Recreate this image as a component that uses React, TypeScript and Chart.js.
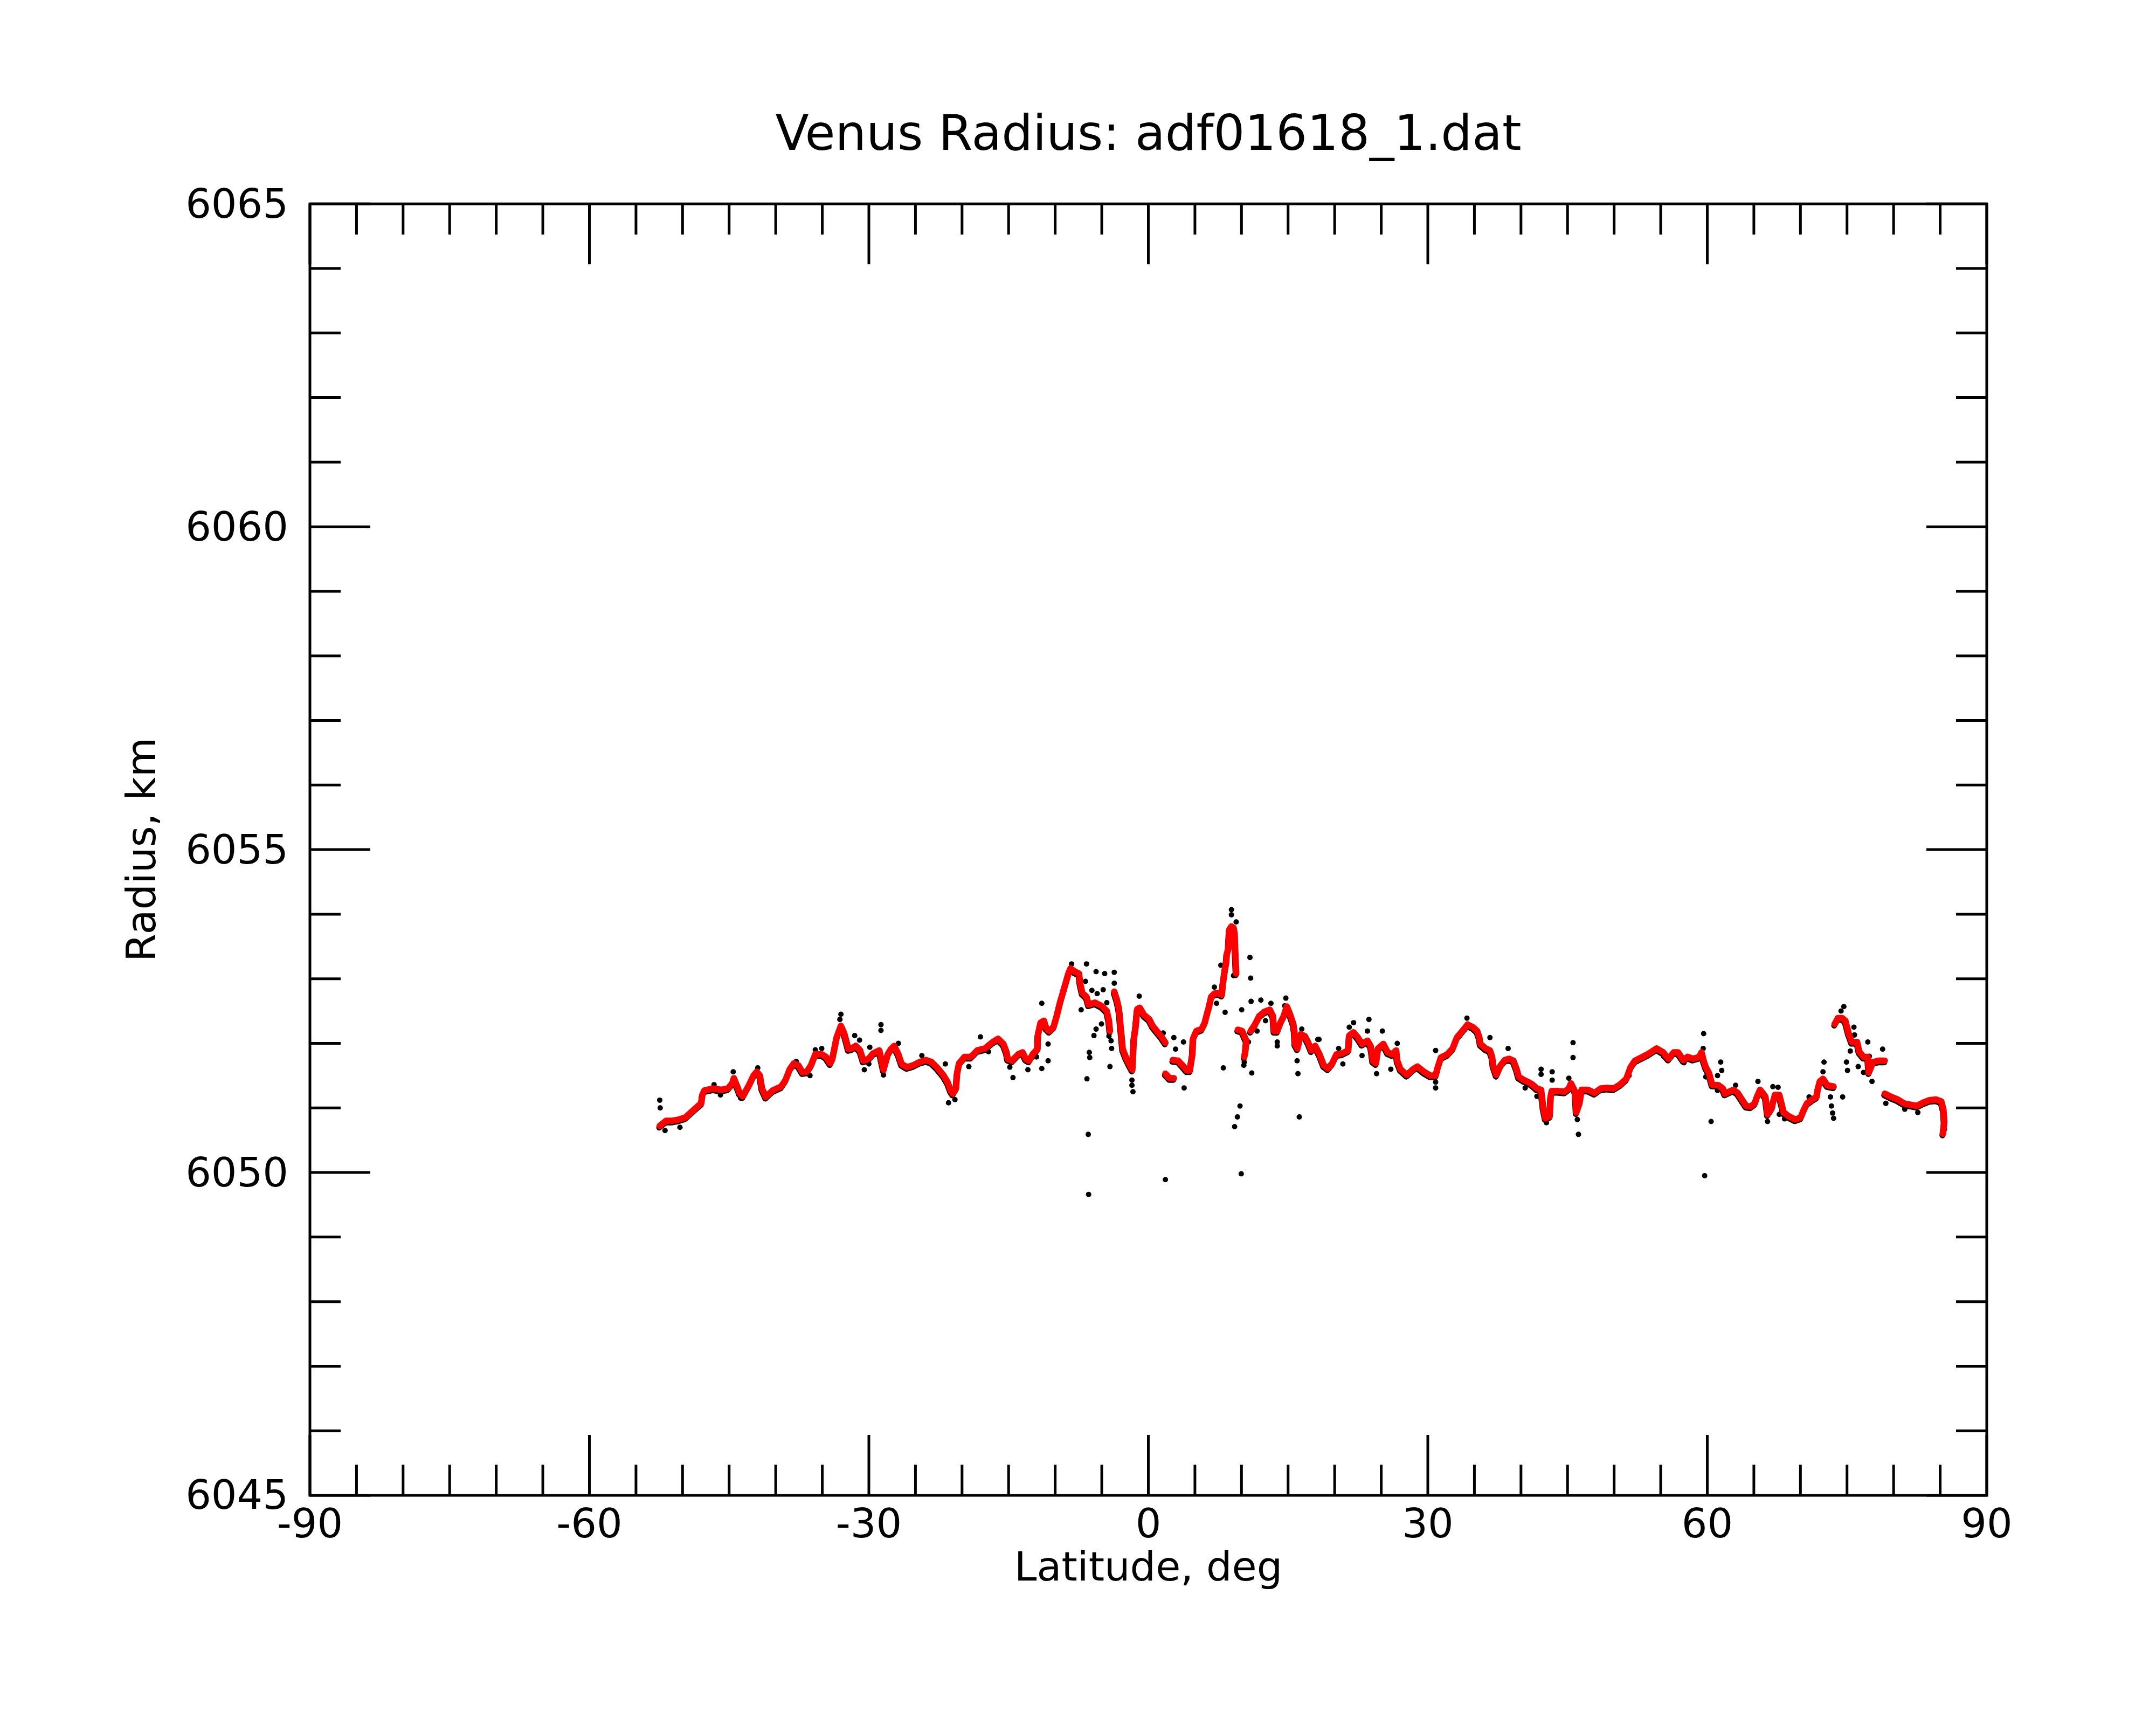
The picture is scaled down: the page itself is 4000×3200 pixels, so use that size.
import React, { useEffect, useRef } from "react";
import { Chart, registerables } from "chart.js";

Chart.register(...registerables);

const TITLE = "Venus Radius: adf01618_1.dat";
const X_TITLE = "Latitude, deg";
const Y_TITLE = "Radius, km";

const xTickLabels = [-90, -60, -30, 0, 30, 60, 90];
const yTickLabels = [6045, 6050, 6055, 6060, 6065];
const xMinorTicks = [-85, -80, -75, -70, -65, -55, -50, -45, -40, -35, -25, -20, -15, -10, -5, 5, 10, 15, 20, 25, 35, 40, 45, 50, 55, 65, 70, 75, 80, 85];
const yMinorTicks = [6046, 6047, 6048, 6049, 6051, 6052, 6053, 6054, 6056, 6057, 6058, 6059, 6061, 6062, 6063, 6064];

// smoothed radius (red), [latitude, radius]; null radius = gap
const smoothPoints: [number, number | null][] = [
  [-52.45, 6050.72], [-51.76, 6050.8], [-51.08, 6050.8], [-50.39, 6050.82], [-49.71, 6050.85], [-49.02, 6050.94], [-48.33, 6051.03], [-47.99, 6051.07], [-47.88, 6051.2], [-47.65, 6051.27],
  [-46.73, 6051.3], [-45.82, 6051.28], [-45.13, 6051.3], [-44.67, 6051.38], [-44.49, 6051.46], [-44.21, 6051.36], [-43.87, 6051.23], [-43.53, 6051.18], [-42.84, 6051.36], [-42.38, 6051.5],
  [-42.04, 6051.56], [-41.7, 6051.5], [-41.47, 6051.3], [-41.06, 6051.17], [-40.32, 6051.27], [-39.41, 6051.33], [-38.95, 6051.43], [-38.49, 6051.6], [-38.04, 6051.69], [-37.58, 6051.66],
  [-37.12, 6051.55], [-36.66, 6051.56], [-36.21, 6051.66], [-35.75, 6051.83], [-35.06, 6051.83], [-34.61, 6051.79], [-34.15, 6051.69], [-33.92, 6051.76], [-33.69, 6051.92], [-33.46, 6052.09],
  [-33.0, 6052.27], [-32.66, 6052.16], [-32.43, 6052.04], [-32.2, 6051.91], [-31.86, 6051.92], [-31.4, 6051.96], [-30.94, 6051.89], [-30.6, 6051.73], [-30.03, 6051.76], [-29.57, 6051.84],
  [-28.88, 6051.89], [-28.43, 6051.59], [-27.97, 6051.83], [-27.63, 6051.91], [-27.28, 6051.96], [-26.83, 6051.83], [-26.48, 6051.68], [-25.91, 6051.63], [-25.22, 6051.66], [-24.54, 6051.71],
  [-23.85, 6051.74], [-23.28, 6051.71], [-22.71, 6051.63], [-22.02, 6051.51], [-21.56, 6051.4], [-21.22, 6051.27], [-20.99, 6051.22], [-20.65, 6051.3], [-20.53, 6051.53], [-20.31, 6051.69],
  [-19.73, 6051.79], [-19.05, 6051.79], [-18.36, 6051.89], [-17.56, 6051.92], [-16.7, 6052.02], [-16.13, 6052.07], [-15.56, 6051.99], [-15.22, 6051.86], [-15.1, 6051.76], [-14.64, 6051.73],
  [-13.96, 6051.83], [-13.5, 6051.86], [-13.16, 6051.76], [-12.81, 6051.73], [-12.36, 6051.84], [-11.9, 6051.91], [-11.85, 6052.13], [-11.56, 6052.32], [-11.21, 6052.35], [-10.98, 6052.24],
  [-10.64, 6052.19], [-10.18, 6052.25], [-9.84, 6052.42], [-9.5, 6052.62], [-9.04, 6052.85], [-8.58, 6053.08], [-8.35, 6053.16], [-7.89, 6053.11], [-7.44, 6053.08], [-7.32, 6052.93],
  [-7.09, 6052.78], [-6.64, 6052.72], [-6.41, 6052.6], [-5.72, 6052.63], [-5.03, 6052.58], [-4.46, 6052.5], [-4.23, 6052.35], [-4.12, 6052.19],
  [-4.12, null],
  [-3.66, 6052.8], [-3.39, 6052.68], [-3.2, 6052.56], [-3.09, 6052.45], [-3.02, 6052.32], [-2.93, 6052.19], [-2.75, 6051.91], [-2.4, 6051.78], [-2.06, 6051.68], [-1.72, 6051.59],
  [-1.56, 6052.06], [-1.37, 6052.25], [-1.19, 6052.53], [-0.92, 6052.55], [-0.46, 6052.44], [0.11, 6052.37], [0.46, 6052.27], [0.91, 6052.19], [1.37, 6052.11], [1.83, 6052.01],
  [1.83, null],
  [1.83, 6051.53], [2.29, 6051.46], [2.74, 6051.46],
  [2.74, null],
  [2.63, 6051.74], [3.2, 6051.73], [3.66, 6051.66], [4.12, 6051.58], [4.46, 6051.58], [4.57, 6051.69], [4.73, 6051.83], [4.8, 6052.07], [5.15, 6052.19], [5.72, 6052.22],
  [6.06, 6052.32], [6.29, 6052.45], [6.52, 6052.57], [6.75, 6052.72], [7.09, 6052.77], [7.55, 6052.78], [7.89, 6052.75], [8.01, 6052.93], [8.24, 6053.16], [8.35, 6053.24],
  [8.42, 6053.38], [8.58, 6053.46], [8.69, 6053.76], [8.92, 6053.81], [9.15, 6053.79], [9.26, 6053.7], [9.33, 6053.42], [9.43, 6053.08],
  [9.43, null],
  [9.61, 6052.21], [10.07, 6052.19], [10.52, 6052.04], [10.41, 6051.87], [10.3, 6051.79],
  [10.3, null],
  [10.98, 6052.19], [11.44, 6052.29], [11.9, 6052.42], [12.47, 6052.49], [13.04, 6052.52], [13.38, 6052.42], [13.5, 6052.19], [13.84, 6052.19], [14.18, 6052.32], [14.53, 6052.42],
  [14.87, 6052.57], [15.21, 6052.45], [15.56, 6052.3], [15.67, 6052.19], [15.74, 6051.99], [16.01, 6051.92], [16.36, 6052.14], [16.81, 6052.11], [17.16, 6052.01], [17.5, 6051.89],
  [17.91, 6051.96], [18.37, 6051.83], [18.83, 6051.66], [19.28, 6051.61], [19.74, 6051.69], [20.2, 6051.83], [20.77, 6051.84], [21.46, 6051.89], [21.57, 6052.12], [22.03, 6052.17],
  [22.49, 6052.09], [22.94, 6051.99], [23.52, 6052.04], [23.86, 6051.96], [23.97, 6051.87], [24.09, 6051.73], [24.43, 6051.69], [24.66, 6051.92], [25.23, 6051.99], [25.69, 6051.86],
  [26.15, 6051.83], [26.6, 6051.89], [26.72, 6051.73], [27.06, 6051.6], [27.75, 6051.51], [28.43, 6051.6], [28.89, 6051.64], [29.58, 6051.56], [30.27, 6051.5], [30.84, 6051.5],
  [31.07, 6051.63], [31.41, 6051.78], [32.1, 6051.83], [32.67, 6051.92], [33.13, 6052.09], [33.7, 6052.19], [34.27, 6052.29], [34.84, 6052.25], [35.3, 6052.19], [35.53, 6052.09],
  [35.64, 6051.99], [36.21, 6051.92], [36.67, 6051.89], [36.9, 6051.79], [37.01, 6051.66], [37.36, 6051.51], [37.82, 6051.66], [38.27, 6051.74], [38.73, 6051.76], [39.19, 6051.73],
  [39.53, 6051.6], [39.76, 6051.48], [40.33, 6051.43], [40.79, 6051.4], [41.25, 6051.36], [41.71, 6051.3], [42.16, 6051.28], [42.39, 6051.0], [42.62, 6050.84], [43.08, 6050.87],
  [43.19, 6051.17], [43.31, 6051.26], [43.99, 6051.26], [44.68, 6051.25], [45.14, 6051.3], [45.37, 6051.38], [45.82, 6051.25], [45.94, 6050.93], [46.28, 6051.07], [46.51, 6051.28],
  [47.2, 6051.28], [47.88, 6051.23], [48.57, 6051.3], [49.26, 6051.31], [49.94, 6051.3], [50.63, 6051.36], [51.31, 6051.45], [51.77, 6051.63], [52.23, 6051.73], [52.92, 6051.78],
  [53.6, 6051.83], [54.57, 6051.92], [55.26, 6051.86], [55.83, 6051.76], [56.4, 6051.86], [56.86, 6051.86], [57.43, 6051.74], [57.89, 6051.79], [58.46, 6051.76], [59.15, 6051.79],
  [59.38, 6051.86], [59.61, 6051.73], [59.84, 6051.63], [60.18, 6051.54], [60.52, 6051.36], [61.21, 6051.35], [61.67, 6051.3], [61.89, 6051.22], [62.35, 6051.25], [62.81, 6051.28],
  [63.27, 6051.23], [63.72, 6051.13], [64.18, 6051.03], [64.64, 6051.02], [65.1, 6051.07], [65.33, 6051.17], [65.67, 6051.28], [66.01, 6051.22], [66.24, 6051.17], [66.36, 6051.03],
  [66.47, 6050.9], [66.93, 6051.0], [67.04, 6051.08], [67.27, 6051.2], [67.73, 6051.2], [67.96, 6051.07], [68.19, 6050.93], [68.76, 6050.87], [69.44, 6050.82], [70.02, 6050.85],
  [70.36, 6050.97], [70.7, 6051.07], [71.28, 6051.13], [71.73, 6051.17], [71.85, 6051.28], [72.08, 6051.41], [72.42, 6051.45], [72.88, 6051.35], [73.56, 6051.33],
  [73.56, null],
  [73.68, 6052.3], [74.02, 6052.39], [74.48, 6052.39], [74.82, 6052.35], [75.16, 6052.16], [75.51, 6052.02], [76.08, 6052.02], [76.31, 6051.87], [76.77, 6051.79], [77.23, 6051.79],
  [77.34, 6051.55], [77.8, 6051.71], [78.37, 6051.73], [79.05, 6051.73],
  [79.05, null],
  [79.05, 6051.22], [79.74, 6051.17], [80.43, 6051.13], [81.11, 6051.07], [81.8, 6051.05], [82.49, 6051.03], [83.17, 6051.08], [83.86, 6051.12], [84.55, 6051.13], [85.12, 6051.1],
  [85.35, 6050.97], [85.44, 6050.78], [85.3, 6050.6],
];

// raw radius measurements (black) that stand out from the smoothed track, [latitude, radius]
const rawPoints: [number, number][] = [
  [-52.45, 6051.12], [-52.4, 6051.0], [-51.88, 6050.65], [-50.28, 6050.7], [-44.56, 6051.56], [-33.0, 6052.45], [-33.11, 6052.37], [-28.7, 6052.29],
  [-31.52, 6052.12], [-29.9, 6051.94], [-30.49, 6051.59], [-21.79, 6051.68], [-21.45, 6051.08], [-20.76, 6051.13], [-18.02, 6052.1], [-24.31, 6051.81],
  [-35.06, 6051.92], [-46.62, 6051.36], [-45.93, 6051.2], [-43.76, 6051.15], [-36.32, 6051.5], [-26.83, 6052.0], [-28.43, 6051.51], [-19.27, 6051.64],
  [-41.93, 6051.62], [-37.8, 6051.72], [-35.75, 6051.9], [-33.2, 6052.2], [-31.0, 6052.05], [-30.0, 6051.68], [-28.7, 6052.2],
  [-14.53, 6051.47], [-11.44, 6052.62], [-11.44, 6051.61], [-10.76, 6051.73], [-8.24, 6053.23], [-6.64, 6053.23], [-5.61, 6053.11], [-4.69, 6053.08],
  [-3.66, 6053.1], [-6.75, 6052.96], [-6.06, 6052.82], [-4.85, 6052.83], [-5.49, 6052.77], [-7.21, 6052.52], [-5.03, 6052.3], [-5.61, 6052.22],
  [-5.84, 6052.12], [-4.0, 6052.04], [-3.94, 6051.92], [-4.12, 6051.64], [-6.34, 6051.86], [-6.29, 6051.78], [-6.59, 6051.45], [-6.45, 6050.59],
  [-6.41, 6049.66], [-1.76, 6051.43], [-1.76, 6051.35], [-1.65, 6051.25], [-0.98, 6052.73], [2.74, 6052.09], [2.92, 6051.91], [3.77, 6052.02],
  [3.84, 6051.31], [1.83, 6049.89], [8.05, 6051.62], [8.24, 6052.48], [7.32, 6052.62], [7.09, 6052.87], [8.92, 6054.07], [8.92, 6053.99],
  [9.43, 6053.88], [10.91, 6053.33], [10.98, 6053.01], [11.03, 6052.65], [12.08, 6052.67], [10.02, 6052.52], [9.84, 6051.03], [9.56, 6050.86],
  [9.26, 6050.71], [9.97, 6049.98], [11.1, 6051.54], [10.25, 6051.66], [13.16, 6052.62], [13.84, 6051.96], [14.76, 6052.7], [15.97, 6051.73],
  [16.06, 6051.53], [16.2, 6050.86], [16.47, 6052.22], [18.19, 6052.06], [11.67, 6052.19], [12.58, 6052.35], [10.75, 6052.02], [-10.76, 6051.99],
  [-12.93, 6051.59], [-12.01, 6051.79], [-14.87, 6051.63], [-17.16, 6051.87], [-9.04, 6052.82], [-4.46, 6052.63], [-3.66, 6052.93], [-4.23, 6052.11],
  [1.6, 6052.16], [7.78, 6053.21], [9.15, 6053.05], [10.3, 6051.71], [13.84, 6052.02], [14.64, 6052.58],
  [18.32, 6052.06], [22.03, 6052.32], [21.57, 6052.25], [23.68, 6052.37], [23.52, 6052.19], [22.94, 6051.81], [20.88, 6051.68], [20.43, 6051.92],
  [24.5, 6051.53], [25.12, 6052.19], [26.03, 6051.6], [26.72, 6052.0], [30.84, 6051.89], [30.84, 6051.31], [30.84, 6051.4], [34.2, 6052.39],
  [36.67, 6052.09], [38.62, 6051.92], [40.45, 6051.31], [42.16, 6051.6], [42.16, 6051.52], [41.71, 6051.18], [43.35, 6051.56], [43.35, 6051.43],
  [45.59, 6052.01], [45.59, 6051.78], [45.14, 6051.46], [46.05, 6050.82], [46.17, 6050.59], [42.73, 6050.77], [51.6, 6051.5],
  [59.61, 6052.15], [59.56, 6051.92], [59.72, 6049.95], [60.41, 6050.79], [59.84, 6051.48], [61.44, 6051.71], [61.55, 6051.58], [61.1, 6051.5],
  [61.1, 6051.27], [63.04, 6051.35], [65.44, 6051.41], [66.47, 6050.79], [67.04, 6051.33], [67.6, 6051.32], [67.73, 6050.9], [68.3, 6050.83],
  [70.93, 6051.17], [72.53, 6051.71], [72.42, 6051.56], [73.22, 6051.17], [73.33, 6051.03], [73.45, 6050.92], [73.56, 6050.84], [74.66, 6052.57],
  [74.36, 6052.5], [75.74, 6052.25], [75.8, 6052.13], [75.35, 6051.88], [74.94, 6051.71], [75.05, 6051.58], [74.53, 6051.17], [76.2, 6051.64],
  [76.77, 6051.55], [77.23, 6052.02], [77.4, 6051.8], [77.68, 6051.41], [78.82, 6051.91], [79.17, 6051.07], [81.2, 6050.98], [82.6, 6050.93],
  [85.46, 6050.67], [57.5, 6051.7], [55.3, 6051.8],
];

const FONT = "'DejaVu Sans', sans-serif";
const UNDERLAY_INDEX = 2;

// the dense raw track peeks out just below the red smoothed track
const underlayPlugin = {
  id: "rawUnderlay",
  beforeDatasetDraw(chart: any, args: any) {
    if (args.index === UNDERLAY_INDEX) {
      chart.ctx.save();
      chart.ctx.translate(-1, 3);
    }
  },
  afterDatasetDraw(chart: any, args: any) {
    if (args.index === UNDERLAY_INDEX) chart.ctx.restore();
  },
};

const framePlugin = {
  id: "idlFrame",
  afterDatasetsDraw(chart: any) {
    const { ctx, chartArea, scales } = chart;
    const { left, right, top, bottom } = chartArea;
    const xs = scales.x;
    const ys = scales.y;
    const MAJOR = 112;
    const MINOR = 57;
    ctx.save();
    ctx.strokeStyle = "#000";
    ctx.lineWidth = 5;
    ctx.lineCap = "butt";
    const seg = (x1: number, y1: number, x2: number, y2: number) => {
      ctx.beginPath();
      ctx.moveTo(x1, y1);
      ctx.lineTo(x2, y2);
      ctx.stroke();
    };
    const xTick = (v: number, len: number) => {
      const p = xs.getPixelForValue(v);
      seg(p, bottom, p, bottom - len);
      seg(p, top, p, top + len);
    };
    const yTick = (v: number, len: number) => {
      const p = ys.getPixelForValue(v);
      seg(left, p, left + len, p);
      seg(right, p, right - len, p);
    };
    xMinorTicks.forEach((v) => xTick(v, MINOR));
    xTickLabels.forEach((v) => xTick(v, MAJOR));
    yMinorTicks.forEach((v) => yTick(v, MINOR));
    yTickLabels.forEach((v) => yTick(v, MAJOR));
    ctx.strokeRect(left, top, right - left, bottom - top);
    ctx.restore();
  },
};

export default function App() {
  const canvasRef = useRef<HTMLCanvasElement | null>(null);

  useEffect(() => {
    const canvas = canvasRef.current;
    if (!canvas) return;
    const smoothData = smoothPoints.map(([x, y]) => ({ x, y })) as any;
    const chart = new Chart(canvas, {
      type: "scatter",
      data: {
        datasets: [
          {
            label: "smoothed",
            data: smoothData,
            showLine: true,
            spanGaps: false,
            borderColor: "#ff0000",
            backgroundColor: "#ff0000",
            borderWidth: 12,
            borderCapStyle: "round",
            borderJoinStyle: "round",
            pointRadius: 0,
            order: 0,
          },
          {
            label: "raw",
            data: rawPoints.map(([x, y]) => ({ x, y })),
            showLine: false,
            backgroundColor: "#000000",
            borderColor: "#000000",
            borderWidth: 0,
            pointRadius: 5,
            order: 1,
          },
          {
            label: "raw track",
            data: smoothData,
            showLine: true,
            spanGaps: false,
            borderColor: "#000000",
            backgroundColor: "#000000",
            borderWidth: 11,
            borderCapStyle: "round",
            borderJoinStyle: "round",
            pointRadius: 0,
            order: 2,
          },
        ],
      },
      plugins: [underlayPlugin, framePlugin],
      options: {
        responsive: false,
        animation: false,
        devicePixelRatio: 1,
        layout: { padding: { top: 200, left: 224, right: 314, bottom: 242 } },
        plugins: {
          legend: { display: false },
          tooltip: { enabled: false },
          title: {
            display: true,
            text: TITLE,
            fullSize: false,
            color: "#000",
            font: { family: FONT, size: 91, weight: "normal" },
            padding: { top: 0, bottom: 69 },
          },
        },
        scales: {
          x: {
            type: "linear",
            min: -90,
            max: 90,
            afterFit: (s: any) => {
              s.height = 184;
            },
            afterBuildTicks: (s: any) => {
              s.ticks = xTickLabels.map((v) => ({ value: v }));
            },
            ticks: {
              color: "#000",
              font: { family: FONT, size: 75 },
              padding: 14,
              maxRotation: 0,
              autoSkip: false,
              callback: (v: any) => String(v),
            },
            grid: { display: false, drawTicks: false },
            border: { display: false },
            title: {
              display: true,
              text: X_TITLE,
              color: "#000",
              font: { family: FONT, size: 75 },
              padding: { top: 0, bottom: 0 },
            },
          },
          y: {
            type: "linear",
            min: 6045,
            max: 6065,
            afterFit: (s: any) => {
              s.width = 351;
            },
            afterBuildTicks: (s: any) => {
              s.ticks = yTickLabels.map((v) => ({ value: v }));
            },
            ticks: {
              color: "#000",
              font: { family: FONT, size: 75 },
              padding: 40,
              labelOffset: 6,
              autoSkip: false,
              callback: (v: any) => String(v),
            },
            grid: { display: false, drawTicks: false },
            border: { display: false },
            title: {
              display: true,
              text: Y_TITLE,
              color: "#000",
              font: { family: FONT, size: 75 },
              padding: { top: 0, bottom: 0 },
            },
          },
        },
      } as any,
    });
    return () => chart.destroy();
  }, []);

  return (
    <div style={{ position: "absolute", left: 0, top: 0, width: 4000, height: 3200, background: "#fff" }}>
      <canvas ref={canvasRef} width={4000} height={3200} style={{ width: 4000, height: 3200, display: "block" }} />
    </div>
  );
}
